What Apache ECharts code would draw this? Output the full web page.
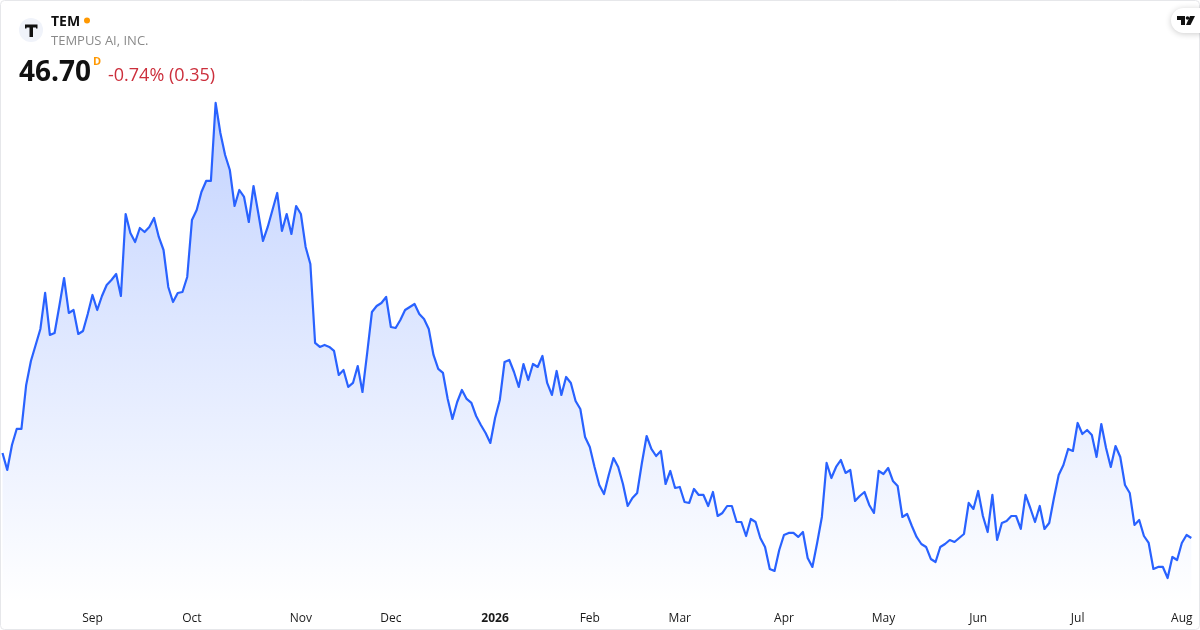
<!DOCTYPE html>
<html><head><meta charset="utf-8">
<style>html,body{margin:0;padding:0;background:#fff}#c{width:1200px;height:630px}</style>
<script src="https://cdn.jsdelivr.net/npm/echarts@6/dist/echarts.min.js"></script>
</head><body><div id="c"></div>
<script>
const prices = [57.33,55.20,58.33,60.33,60.33,65.83,68.83,70.83,72.83,77.33,72.08,72.33,75.70,79.20,74.83,75.20,72.20,72.58,74.70,77.08,
75.20,76.95,78.33,78.95,79.70,76.95,87.20,84.83,83.70,85.45,84.95,85.58,86.70,84.33,82.70,78.08,76.20,77.33,77.45,79.33,
86.45,87.70,89.95,91.33,91.33,101.08,97.33,94.58,92.70,88.20,90.20,89.33,86.20,90.70,87.33,83.83,85.58,87.70,89.83,85.08,
87.20,84.70,88.20,87.20,83.08,80.95,71.08,70.58,70.83,70.58,70.08,67.08,67.70,65.58,66.08,68.20,64.95,69.83,74.95,75.70,
76.08,76.83,73.08,72.95,73.95,75.20,75.58,75.95,74.70,74.08,72.83,69.58,67.83,67.33,64.08,61.58,63.70,65.20,64.08,63.58,
61.95,60.83,59.83,58.58,61.70,63.95,68.70,68.95,67.45,65.58,68.45,66.45,68.45,68.08,69.45,66.08,64.58,67.58,64.58,66.83,
66.08,63.83,62.83,59.33,58.08,55.58,53.33,52.20,54.58,56.70,55.58,53.45,50.70,51.70,52.33,56.08,59.45,57.83,56.95,57.58,
53.45,55.08,52.95,53.08,51.20,51.08,52.83,52.08,52.08,50.70,52.45,49.45,49.83,50.70,50.70,48.70,48.70,46.95,49.08,48.70,
46.70,45.58,42.83,42.58,45.20,47.08,47.33,47.33,46.83,47.45,44.20,43.08,46.08,49.33,56.08,54.20,55.58,56.45,54.83,55.20,
51.33,51.95,52.45,50.83,49.83,55.08,54.70,55.45,53.83,53.20,49.33,49.70,48.20,46.83,45.95,45.58,44.08,43.70,45.58,45.95,
46.45,46.20,46.70,47.20,51.08,50.33,52.58,49.45,47.45,52.08,46.45,48.58,48.83,49.45,49.45,47.83,52.08,50.45,48.70,50.70,
47.83,48.58,51.70,54.58,55.83,57.83,57.58,61.08,59.70,60.20,59.58,56.83,60.95,57.95,55.58,58.20,56.83,53.33,52.33,48.33,
48.95,46.95,46.08,42.83,43.08,43.08,41.70,44.33,43.95,46.08,47.08,46.70];
const tickLabels = ["Sep","Oct","Nov","Dec","2026","Feb","Mar","Apr","May","Jun","Jul","Aug"];
const tickIndexes = [19,40,63,82,104,124,143,165,186,206,227,249];
const symbol = "TEM";
const company = "TEMPUS AI, INC.";
const lastPrice = "46.70";
const change = "-0.74% (0.35)";
const F = '"Open Sans", sans-serif';

const categories = prices.map((_, i) => {
  const k = tickIndexes.indexOf(i);
  return k >= 0 ? tickLabels[k] : String(i);
});

const chart = echarts.init(document.getElementById('c'), null, {renderer:'canvas', width:1200, height:630});
chart.setOption({
  animation:false,
  backgroundColor:'#ffffff',
  grid:{left:2.5, right:8.7, top:91.6, bottom:26.4},
  xAxis:{
    type:'category', data:categories, boundaryGap:false,
    axisLine:{show:false}, axisTick:{show:false}, splitLine:{show:false},
    axisLabel:{
      interval:(i)=>tickIndexes.includes(i), hideOverlap:false, margin:8,
      color:'#1a1a1a', fontFamily:F, fontSize:12, lineHeight:14,
      formatter:(v)=>v==='2026'?'{b|2026}':v,
      rich:{b:{fontFamily:F,fontSize:12,fontWeight:700,color:'#1a1a1a'}}
    }
  },
  yAxis:{type:'value', min:38.5, max:102.5, show:false, splitLine:{show:false}},
  series:[{
    type:'line', data:prices, showSymbol:false, smooth:false,
    lineStyle:{color:'#2962ff', width:2.2, join:'round'},
    areaStyle:{origin:'start', opacity:1, color:new echarts.graphic.LinearGradient(0,0,0,1,[
      {offset:0,color:'rgba(41,98,255,0.28)'},{offset:1,color:'rgba(41,98,255,0)'}])}
  }],
  graphic:[
    {type:'rect',silent:true,z:100,shape:{x:0.5,y:0.5,width:1199,height:629,r:4},style:{fill:'none',stroke:'#e6e7ea',lineWidth:1}},
    {type:'circle',z:100,shape:{cx:31,cy:30,r:12},style:{fill:'#f0f3fa'}},
    {type:'polygon',z:101,shape:{points:[[25,24.5],[37.5,24.5],[37.5,28.5],[36,28.5],[36,27.5],[33,27.5],[33,37],[29.5,37],[29.5,27.5],[26.5,27.5],[26.5,28.5],[25,28.5]]},style:{fill:'#111111'}},
    {type:'text',z:101,x:51,y:22,style:{text:symbol,fill:'#111111',font:'700 14px '+F,verticalAlign:'middle'}},
    {type:'circle',z:101,shape:{cx:87,cy:20.5,r:3},style:{fill:'#ff9800'}},
    {type:'text',z:101,x:51,y:41.5,style:{text:company,fill:'#8a8a8a',font:'13px '+F,verticalAlign:'middle'}},
    {type:'text',z:101,x:19,y:73,style:{text:lastPrice,fill:'#111111',font:'700 28px '+F,verticalAlign:'middle'}},
    {type:'text',z:101,x:93,y:62,style:{text:'D',fill:'#ff9800',font:'700 11px '+F,verticalAlign:'middle'}},
    {type:'text',z:101,x:108,y:76,style:{text:change,fill:'#cc2f3c',font:'18px '+F,verticalAlign:'middle'}},
    {type:'rect',z:100,shape:{x:1171,y:8,width:40,height:25,r:12.5},style:{fill:'#ffffff',shadowBlur:6,shadowColor:'rgba(0,0,0,0.2)',shadowOffsetY:1}},
    {type:'polygon',z:101,shape:{points:[[1177,16],[1185,16],[1185,25],[1181,25],[1181,20],[1177,20]]},style:{fill:'#111111'}},
    {type:'polygon',z:101,shape:{points:[[1190,16],[1195,16],[1190.5,25],[1186,25]]},style:{fill:'#111111'}},
    {type:'circle',z:101,shape:{cx:1187.5,cy:18,r:1.8},style:{fill:'#111111'}}
  ]
});
</script></body></html>
